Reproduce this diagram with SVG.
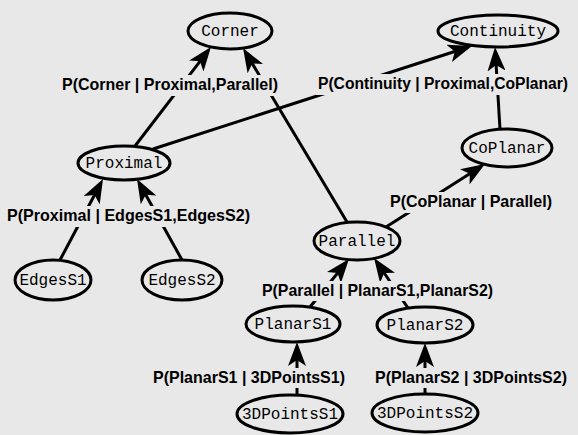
<svg xmlns="http://www.w3.org/2000/svg" width="578" height="435" viewBox="0 0 578 435">
  <style>
    .node ellipse { fill: #e8e8e8; stroke: #000; stroke-width: 3; }
    .node text { font-family: "Liberation Mono", "DejaVu Sans Mono", monospace; font-size: 16px; fill: #000; text-anchor: middle; }
    .edge { stroke: #000; stroke-width: 3; fill: none; marker-end: url(#ah); }
    .lbl rect { fill: #e8e8e8; stroke: none; }
    .lbl text { font-family: "Liberation Sans", Arial, sans-serif; font-weight: bold; font-size: 17px; fill: #000; }
  </style>
  <defs>
    <marker id="ah" viewBox="0 0 24 18" refX="18" refY="9" markerWidth="24" markerHeight="18" orient="auto" markerUnits="userSpaceOnUse">
      <path d="M24,9 L0,0 L6,9 L0,18 Z" fill="#000"/>
    </marker>
  </defs>
  <rect x="0" y="0" width="578" height="435" fill="#e8e8e8"/>

  <g id="connectors">
    <line class="edge" x1="135" y1="146" x2="207.3" y2="51.8"/>
    <line class="edge" x1="347" y1="222" x2="246.1" y2="53.2"/>
    <line class="edge" x1="153" y1="149" x2="466.3" y2="47.8"/>
    <line class="edge" x1="500" y1="129" x2="495.4" y2="53"/>
    <line class="edge" x1="60" y1="260" x2="100.2" y2="184.3"/>
    <line class="edge" x1="182" y1="260" x2="139.9" y2="184.2"/>
    <line class="edge" x1="386" y1="227" x2="479.9" y2="167.2"/>
    <line class="edge" x1="310" y1="307" x2="345.2" y2="263.7"/>
    <line class="edge" x1="408" y1="308" x2="377.4" y2="263"/>
    <line class="edge" x1="297" y1="395" x2="297" y2="348"/>
    <line class="edge" x1="425" y1="394" x2="425" y2="349"/>

    <g class="lbl">
      <rect x="60" y="75" width="220" height="21"/>
      <text x="62" y="90" textLength="216" lengthAdjust="spacingAndGlyphs">P(Corner | Proximal,Parallel)</text>
    </g>
    <g class="lbl">
      <rect x="316" y="74" width="256" height="21"/>
      <text x="318" y="89" font-size="16" textLength="250" lengthAdjust="spacingAndGlyphs" style="font-size:16px">P(Continuity | Proximal,CoPlanar)</text>
    </g>
    <g class="lbl">
      <rect x="5" y="206" width="247" height="21"/>
      <text x="7" y="221" textLength="243" lengthAdjust="spacingAndGlyphs">P(Proximal | EdgesS1,EdgesS2)</text>
    </g>
    <g class="lbl">
      <rect x="388" y="192" width="166" height="21"/>
      <text x="390" y="207" textLength="162" lengthAdjust="spacingAndGlyphs">P(CoPlanar | Parallel)</text>
    </g>
    <g class="lbl">
      <rect x="260" y="281" width="235" height="20"/>
      <text x="262" y="296" textLength="231" lengthAdjust="spacingAndGlyphs">P(Parallel | PlanarS1,PlanarS2)</text>
    </g>
    <g class="lbl">
      <rect x="151" y="368" width="196" height="20"/>
      <text x="153" y="383" textLength="192" lengthAdjust="spacingAndGlyphs">P(PlanarS1 | 3DPointsS1)</text>
    </g>
    <g class="lbl">
      <rect x="373" y="368" width="196" height="20"/>
      <text x="375" y="383" textLength="192" lengthAdjust="spacingAndGlyphs">P(PlanarS2 | 3DPointsS2)</text>
    </g>
  </g>

  <g id="node-corner" class="node">
    <ellipse cx="230" cy="31" rx="42" ry="18"/>
    <text x="230" y="36">Corner</text>
  </g>
  <g id="node-continuity" class="node">
    <ellipse cx="498" cy="31" rx="60" ry="16"/>
    <text x="498" y="36">Continuity</text>
  </g>
  <g id="node-proximal" class="node">
    <ellipse cx="124" cy="163" rx="46" ry="17"/>
    <text x="124" y="168">Proximal</text>
  </g>
  <g id="node-coplanar" class="node">
    <ellipse cx="507" cy="148" rx="45" ry="19"/>
    <text x="507" y="153">CoPlanar</text>
  </g>
  <g id="node-parallel" class="node">
    <ellipse cx="357" cy="241" rx="43" ry="19"/>
    <text x="357" y="246">Parallel</text>
  </g>
  <g id="node-edgess1" class="node">
    <ellipse cx="53" cy="280" rx="38" ry="20"/>
    <text x="53" y="285">EdgesS1</text>
  </g>
  <g id="node-edgess2" class="node">
    <ellipse cx="182" cy="280" rx="40" ry="20"/>
    <text x="182" y="285">EdgesS2</text>
  </g>
  <g id="node-planars1" class="node">
    <ellipse cx="293" cy="324" rx="47" ry="18"/>
    <text x="293" y="329">PlanarS1</text>
  </g>
  <g id="node-planars2" class="node">
    <ellipse cx="425" cy="325" rx="48" ry="18"/>
    <text x="425" y="330">PlanarS2</text>
  </g>
  <g id="node-3dpointss1" class="node">
    <ellipse cx="290" cy="414" rx="53" ry="19"/>
    <text x="290" y="419">3DPointsS1</text>
  </g>
  <g id="node-3dpointss2" class="node">
    <ellipse cx="425" cy="413" rx="53" ry="19"/>
    <text x="425" y="418">3DPointsS2</text>
  </g>
</svg>
